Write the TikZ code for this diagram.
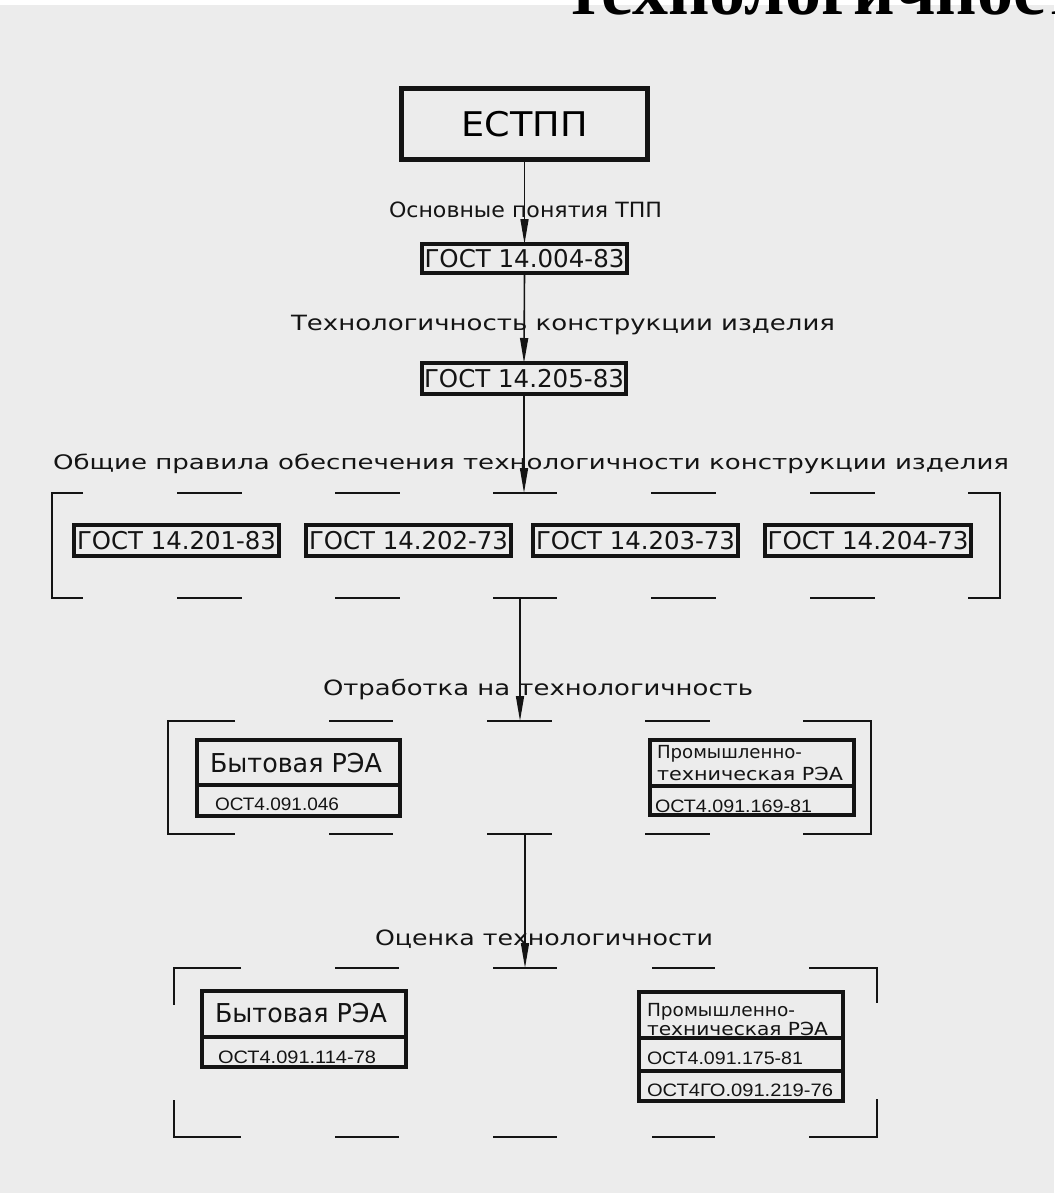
\documentclass[tikz,border=0pt]{standalone}
\usepackage{fontspec}
\usepackage{graphicx}
\usetikzlibrary{arrows.meta}
\newfontfamily\cadfont{DejaVu Sans}
\newfontfamily\ostfont{Liberation Sans}
\newfontfamily\ttlfont{Liberation Serif}
\definecolor{paper}{RGB}{236,236,236}
\definecolor{ink}{RGB}{20,20,20}
\newcommand\fitw[2]{\resizebox{#1}{\height}{#2}}
\tikzset{
  box/.style={draw=ink, line width=4pt, rectangle, inner sep=0pt, outer sep=0pt, text height=#1, text depth=0pt},
  box/.default=13pt,
  conn/.style={draw=ink, line width=1.6pt, -{Triangle[length=25pt,width=8pt]}},
  dsh/.style={draw=ink, line width=1.7pt},
  lbl/.style={anchor=base west, inner sep=0pt, outer sep=0pt, text=ink, font=\cadfont\fontsize{21}{21}\selectfont},
  gost/.style={font=\cadfont\fontsize{24.5}{25}\selectfont, text=ink},
  ost/.style={anchor=base west, inner sep=0pt, outer sep=0pt, text=ink, font=\ostfont\fontsize{18}{18}\selectfont},
  small/.style={anchor=base west, inner sep=0pt, outer sep=0pt, text=ink, font=\cadfont\fontsize{18}{18}\selectfont},
}
\begin{document}
\begin{tikzpicture}[x=1pt,y=-1pt]
\path[use as bounding box] (0,0) rectangle (1054,1193);
\fill[paper] (0,0) rectangle (1054,1193);
\fill[white] (0,0) rectangle (1054,5);
\clip (0,0) rectangle (1054,1193);

% title fragment
\node[anchor=base west, inner sep=0pt, text=black, font=\ttlfont\bfseries\fontsize{72}{72}\selectfont] (title) at (566,15) {технологичност};

% top chain
\node[box=25pt, line width=5pt, minimum width=246pt, minimum height=71pt, font=\cadfont\fontsize{34}{34}\selectfont] (estpp) at (524.5,124) {\fitw{126pt}{ЕСТПП}};
\node[box=18pt, gost, minimum width=205pt, minimum height=29pt] (g004) at (524.5,258.5) {\fitw{200pt}{ГОСТ 14.004-83}};
\node[box=18pt, gost, minimum width=204pt, minimum height=31pt] (g205) at (524,378.5) {\fitw{200pt}{ГОСТ 14.205-83}};

\node[lbl] (l1) at (389,217) {\fitw{273pt}{Основные понятия ТПП}};
\node[lbl] (l2) at (291,330) {\fitw{544pt}{Технологичность конструкции изделия}};
\node[lbl, font=\cadfont\fontsize{20}{20}\selectfont] (l3) at (53,469) {\fitw{956pt}{Общие правила обеспечения технологичности конструкции изделия}};
\node[lbl] (l4) at (323,695) {\fitw{430pt}{Отработка на технологичность}};
\node[lbl] (l5) at (375,945) {\fitw{338pt}{Оценка технологичности}};

% group 1
\node[box=18pt, gost, minimum width=205pt, minimum height=31pt] (g201) at (176.5,540.5) {\fitw{199pt}{ГОСТ 14.201-83}};
\node[box=18pt, gost, minimum width=205pt, minimum height=31pt] (g202) at (408.5,540.5) {\fitw{199pt}{ГОСТ 14.202-73}};
\node[box=18pt, gost, minimum width=205pt, minimum height=31pt] (g203) at (635.5,540.5) {\fitw{199pt}{ГОСТ 14.203-73}};
\node[box=18pt, gost, minimum width=206pt, minimum height=31pt] (g204) at (868,540.5) {\fitw{201pt}{ГОСТ 14.204-73}};

\coordinate (d1top) at (524,493);
\coordinate (d1bot) at (520,598);
\draw[dsh] (83,493) -- (52,493) -- (52,598) -- (83,598);
\draw[dsh] (968,493) -- (1000,493) -- (1000,598) -- (968,598);
\foreach \a/\b in {177/242,335/400,493/557,651/716,810/875}{
  \draw[dsh] (\a,493) -- (\b,493);
  \draw[dsh] (\a,598) -- (\b,598);
}

% group 2
\coordinate (d2top) at (520,721);
\coordinate (d2bot) at (525,834);
\draw[dsh] (235,721) -- (168,721) -- (168,834) -- (235,834);
\draw[dsh] (803,721) -- (871,721) -- (871,834) -- (803,834);
\foreach \a/\b in {329/393,487/552,645/710}{
  \draw[dsh] (\a,721) -- (\b,721);
  \draw[dsh] (\a,834) -- (\b,834);
}
\node[box, minimum width=203pt, minimum height=45pt] (bt1a) at (298.5,762.5) {};
\node[box, minimum width=203pt, minimum height=31pt] (bt1b) at (298.5,800.5) {};
\node[small, font=\cadfont\fontsize{26}{26}\selectfont] (bt1at) at (210,772) {\fitw{172pt}{Бытовая РЭА}};
\node[ost] (bt1bt) at (215,810) {\fitw{124pt}{ОСТ4.091.046}};

\node[box, minimum width=204pt, minimum height=46pt] (pt1a) at (752,763) {};
\node[box, minimum width=204pt, minimum height=29pt] (pt1b) at (752,800.5) {};
\node[small] (pt1at) at (657,758) {\fitw{145pt}{Промышленно-}};
\node[small] (pt1at2) at (657,780) {\fitw{186pt}{техническая РЭА}};
\node[ost] (pt1bt) at (655,812) {\fitw{157pt}{ОСТ4.091.169-81}};

% group 3
\coordinate (d3top) at (525,968);
\draw[dsh] (241,968) -- (174,968) -- (174,1005);
\draw[dsh] (174,1100) -- (174,1137) -- (241,1137);
\draw[dsh] (809,968) -- (877,968) -- (877,1003);
\draw[dsh] (877,1099) -- (877,1137) -- (809,1137);
\foreach \a/\b in {335/399,493/557,652/715}{
  \draw[dsh] (\a,968) -- (\b,968);
  \draw[dsh] (\a,1137) -- (\b,1137);
}
\node[box, minimum width=204pt, minimum height=46pt] (bt2a) at (304,1014) {};
\node[box, minimum width=204pt, minimum height=30pt] (bt2b) at (304,1052) {};
\node[small, font=\cadfont\fontsize{26}{26}\selectfont] (bt2at) at (215,1022) {\fitw{172pt}{Бытовая РЭА}};
\node[ost] (bt2bt) at (218,1063) {\fitw{158pt}{ОСТ4.091.114-78}};

\node[box, minimum width=204pt, minimum height=46pt] (pt2a) at (741,1015) {};
\node[box, minimum width=204pt, minimum height=33pt] (pt2b) at (741,1054.5) {};
\node[box, minimum width=204pt, minimum height=30pt] (pt2c) at (741,1086) {};
\node[small] (pt2at) at (647,1016) {\fitw{148pt}{Промышленно-}};
\node[small] (pt2at2) at (647,1035) {\fitw{181pt}{техническая РЭА}};
\node[ost] (pt2bt) at (647,1064) {\fitw{156pt}{ОСТ4.091.175-81}};
\node[ost] (pt2ct) at (647,1096) {\fitw{186pt}{ОСТ4ГО.091.219-76}};

% connectors
\draw[conn] (estpp.south) -- (g004.north);
\draw[conn] (g004.south) -- (g205.north);
\draw[conn] (g205.south) -- (d1top);
\draw[conn] (d1bot) -- (d2top);
\draw[conn] (d2bot) -- (d3top);
\end{tikzpicture}
\end{document}
